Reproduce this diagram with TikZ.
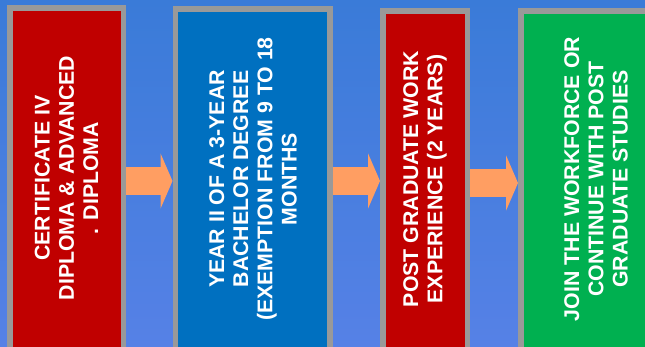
\documentclass[tikz,border=0pt]{standalone}
\usepackage{fontspec}
\setmainfont{Liberation Sans}
\usepackage{xcolor}
\usepackage{tikz}
\usetikzlibrary{arrows.meta,positioning}

\definecolor{bgtop}{RGB}{58,123,216}
\definecolor{bgbottom}{RGB}{86,129,230}
\definecolor{boxred}{RGB}{192,0,0}
\definecolor{boxblue}{RGB}{0,112,192}
\definecolor{boxgreen}{RGB}{0,176,80}
\definecolor{boxrim}{RGB}{153,153,153}
\definecolor{flowarrow}{RGB}{255,158,98}

\begin{document}
\begin{tikzpicture}[
  x=1pt, y=-1pt,
  stage/.style={
    rectangle,
    draw=boxrim,
    line width=5.5pt,
    inner sep=0pt
  },
  caption/.style={
    rotate=90,
    align=center,
    text=white,
    inner sep=0pt,
    font=\fontsize{21.3}{24.2}\selectfont\bfseries
  },
  flow/.style={
    draw=flowarrow,
    line width=28pt,
    -{Triangle[length=12pt, width=55pt]}
  }
]

\useasboundingbox (0,0) rectangle (645,347);
\clip (0,0) rectangle (645,347);
\shade[top color=bgtop, bottom color=bgbottom] (0,0) rectangle (645,347);

% stages
\node[stage, fill=boxred, minimum width=113.5pt, minimum height=347pt] (cert) at (66.5,181.5) {};
\node[stage, fill=boxblue, minimum width=154.5pt, minimum height=346pt] (bachelor) at (252.5,182) {};
\node[stage, fill=boxred, minimum width=84.5pt, minimum height=344pt] (work) at (425,183) {};
\node[stage, fill=boxgreen, minimum width=150.5pt, minimum height=344pt] (career) at (596,183) {};

\node[caption] (certtext) at (66.5,178) {CERTIFICATE IV\\DIPLOMA \& ADVANCED\\. DIPLOMA};
\node[caption] (bachelortext) at (253,179) {YEAR II OF A 3-YEAR\\BACHELOR DEGREE\\(EXEMPTION FROM 9 TO 18\\MONTHS};
\node[caption] (worktext) at (425,179) {POST GRADUATE WORK\\EXPERIENCE (2 YEARS)};
\node[caption] (careertext) at (596,179) {JOIN THE WORKFORCE OR\\CONTINUE WITH POST\\GRADUATE STUDIES};

% arrows between stages
\draw[flow] (cert.east |- 0,181) -- (bachelor.west |- 0,181);
\draw[flow] (bachelor.east |- 0,181) -- (work.west |- 0,181);
\draw[flow] (work.east |- 0,183) -- (career.west |- 0,183);

\end{tikzpicture}
\end{document}
